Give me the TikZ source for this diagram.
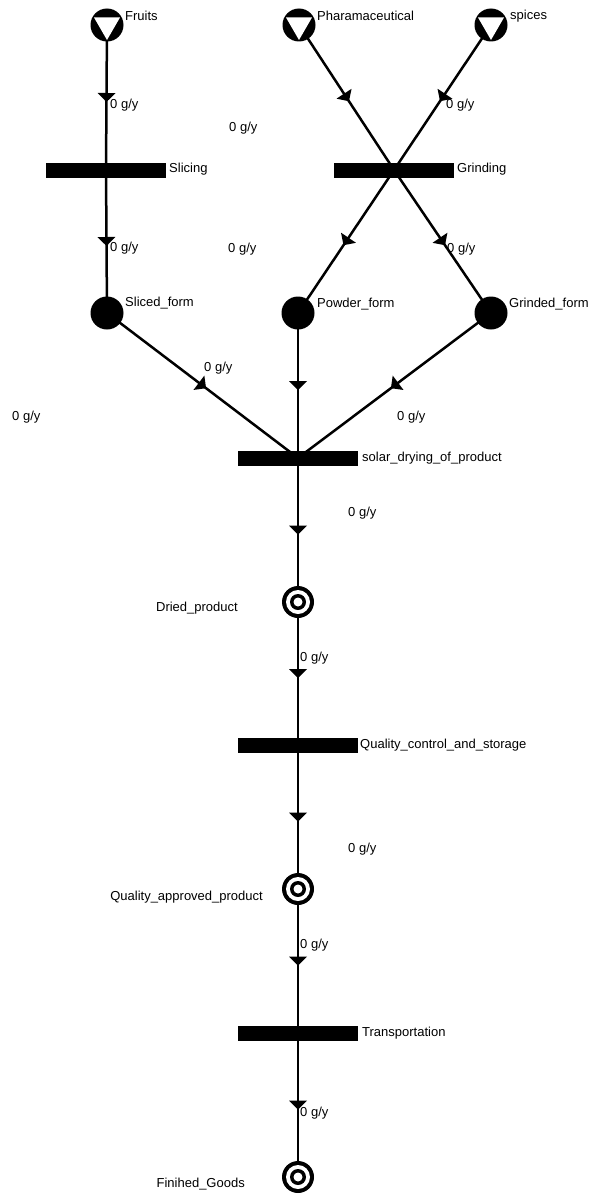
\documentclass[tikz,border=0pt]{standalone}
\usepackage{fontspec}
\setmainfont{Liberation Sans}
\usetikzlibrary{decorations.markings}
\pgfdeclarelayer{bg}
\pgfsetlayers{bg,main}
\begin{document}
\begin{tikzpicture}[x=1pt,y=-1pt,
  lbl/.style={font=\fontsize{13}{15}\selectfont, inner sep=0pt, anchor=west},
  rlbl/.style={font=\fontsize{13}{15}\selectfont, inner sep=0pt, anchor=east},
  flow/.style={line width=2.5pt, postaction={decorate},
    decoration={markings, mark=at position 0.5 with {\fill (4.5pt,0pt) -- (-4.5pt,9pt) -- (-4.5pt,-9pt) -- cycle;}}},
  src/.style={circle, fill=black, minimum size=33pt, inner sep=0pt,
    path picture={\fill[white] ([shift={(150:15pt)}]path picture bounding box.center)
      -- ([shift={(30:15pt)}]path picture bounding box.center)
      -- ([shift={(270:15pt)}]path picture bounding box.center) -- cycle;}},
  place/.style={circle, fill=black, minimum size=33pt, inner sep=0pt},
  final/.style={circle, fill=black, minimum size=32pt, inner sep=0pt,
    path picture={\fill[white] (path picture bounding box.center) circle (12pt);
      \fill[black] (path picture bounding box.center) circle (8pt);
      \fill[white] (path picture bounding box.center) circle (4.5pt);}},
  trans/.style={rectangle, fill=black, minimum width=120pt, minimum height=15pt, inner sep=0pt}
]
\useasboundingbox (0,0) rectangle (590,1199);

% places and transitions
\node[src] (fruits) at (107,25) {};
\node[src] (pharm) at (299,25) {};
\node[src] (spices) at (491,25) {};
\node[trans] (slicing) at (106,170) {};
\node[trans] (grinding) at (394,170) {};
\node[place] (sliced) at (107,313) {};
\node[place] (powder) at (298,313) {};
\node[place] (grinded) at (491,313) {};
\node[trans] (solar) at (298,458) {};
\node[final] (dried) at (298,602) {};
\node[trans] (qc) at (298,745) {};
\node[final] (qa) at (298,889) {};
\node[trans] (transp) at (298,1033) {};
\node[final] (fg) at (298,1177) {};

% connectors
\begin{pgfonlayer}{bg}
\draw[flow] (fruits.center) -- (slicing.center);
\draw[flow] (slicing.center) -- (sliced.center);
\draw[flow] (pharm.center) -- (grinding.center);
\draw[flow] (spices.center) -- (grinding.center);
\draw[flow] (grinding.center) -- (powder.center);
\draw[flow] (grinding.center) -- (grinded.center);
\draw[flow] (sliced.center) -- (solar.center);
\draw[flow] (powder.center) -- (solar.center);
\draw[flow] (grinded.center) -- (solar.center);
\draw[flow] (solar.center) -- (dried.center);
\draw[flow] (dried.center) -- (qc.center);
\draw[flow] (qc.center) -- (qa.center);
\draw[flow] (qa.center) -- (transp.center);
\draw[flow] (transp.center) -- (fg.center);
\end{pgfonlayer}

% node labels
\node[lbl] (t-fruits) at (125,16) {Fruits};
\node[lbl] (t-pharm) at (317,16) {Pharamaceutical};
\node[lbl] (t-spices) at (510,16) {spices};
\node[lbl] (t-slicing) at (169,169) {Slicing};
\node[lbl] (t-grinding) at (457,169) {Grinding};
\node[lbl] (t-sliced) at (125,303) {Sliced\_form};
\node[lbl] (t-powder) at (317,304) {Powder\_form};
\node[lbl] (t-grinded) at (509,304) {Grinded\_form};
\node[lbl] (t-solar) at (362,458) {solar\_drying\_of\_product};
\node[rlbl] (t-dried) at (238,608) {Dried\_product};
\node[lbl] (t-qc) at (360,745) {Quality\_control\_and\_storage};
\node[rlbl] (t-qa) at (263,897) {Quality\_approved\_product};
\node[lbl] (t-transp) at (362,1033) {Transportation};
\node[rlbl] (t-fg) at (245,1184) {Finihed\_Goods};

% flow labels
\node[lbl] (f1) at (110,105) {0 g/y};
\node[lbl] (f2) at (446,105) {0 g/y};
\node[lbl] (f3) at (229,128) {0 g/y};
\node[lbl] (f4) at (110,248) {0 g/y};
\node[lbl] (f5) at (228,249) {0 g/y};
\node[lbl] (f6) at (447,249) {0 g/y};
\node[lbl] (f7) at (204,368) {0 g/y};
\node[lbl] (f8) at (12,417) {0 g/y};
\node[lbl] (f9) at (397,417) {0 g/y};
\node[lbl] (f10) at (348,513) {0 g/y};
\node[lbl] (f11) at (300,658) {0 g/y};
\node[lbl] (f12) at (348,849) {0 g/y};
\node[lbl] (f13) at (300,945) {0 g/y};
\node[lbl] (f14) at (300,1113) {0 g/y};
\end{tikzpicture}
\end{document}
